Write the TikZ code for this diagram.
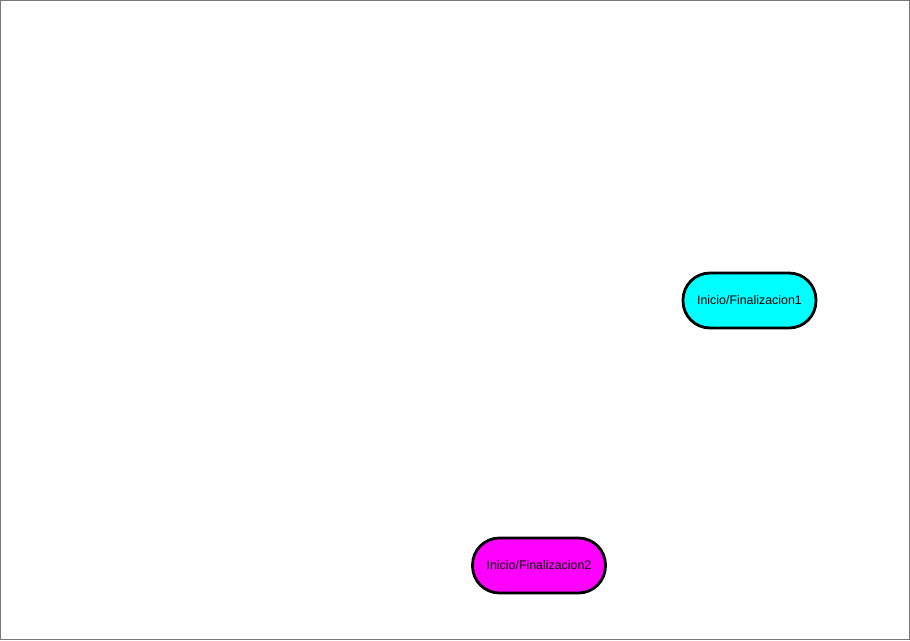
\documentclass[tikz,border=0pt]{standalone}
\usepackage{fontspec}
\setmainfont{Liberation Sans}
\definecolor{termcyan}{RGB}{0,255,255}
\definecolor{termmag}{RGB}{255,0,255}
\definecolor{frame}{RGB}{120,120,120}
\tikzset{
  term/.style={draw=black, line width=2.8pt, rounded corners=27pt, minimum width=133pt, minimum height=55pt, inner sep=0pt, font=\fontsize{12.4}{14}\selectfont},
}
\begin{document}
\begin{tikzpicture}[x=1pt,y=-1pt]
\useasboundingbox (0,0) rectangle (910,640);
\draw[draw=frame, line width=1pt] (0.5,0.5) rectangle (909.5,639.5);
\node[term, fill=termcyan] (n1) at (749.5,300.5) {Inicio/Finalizacion1};
\node[term, fill=termmag] (n2) at (539,565.5) {Inicio/Finalizacion2};
\end{tikzpicture}
\end{document}
